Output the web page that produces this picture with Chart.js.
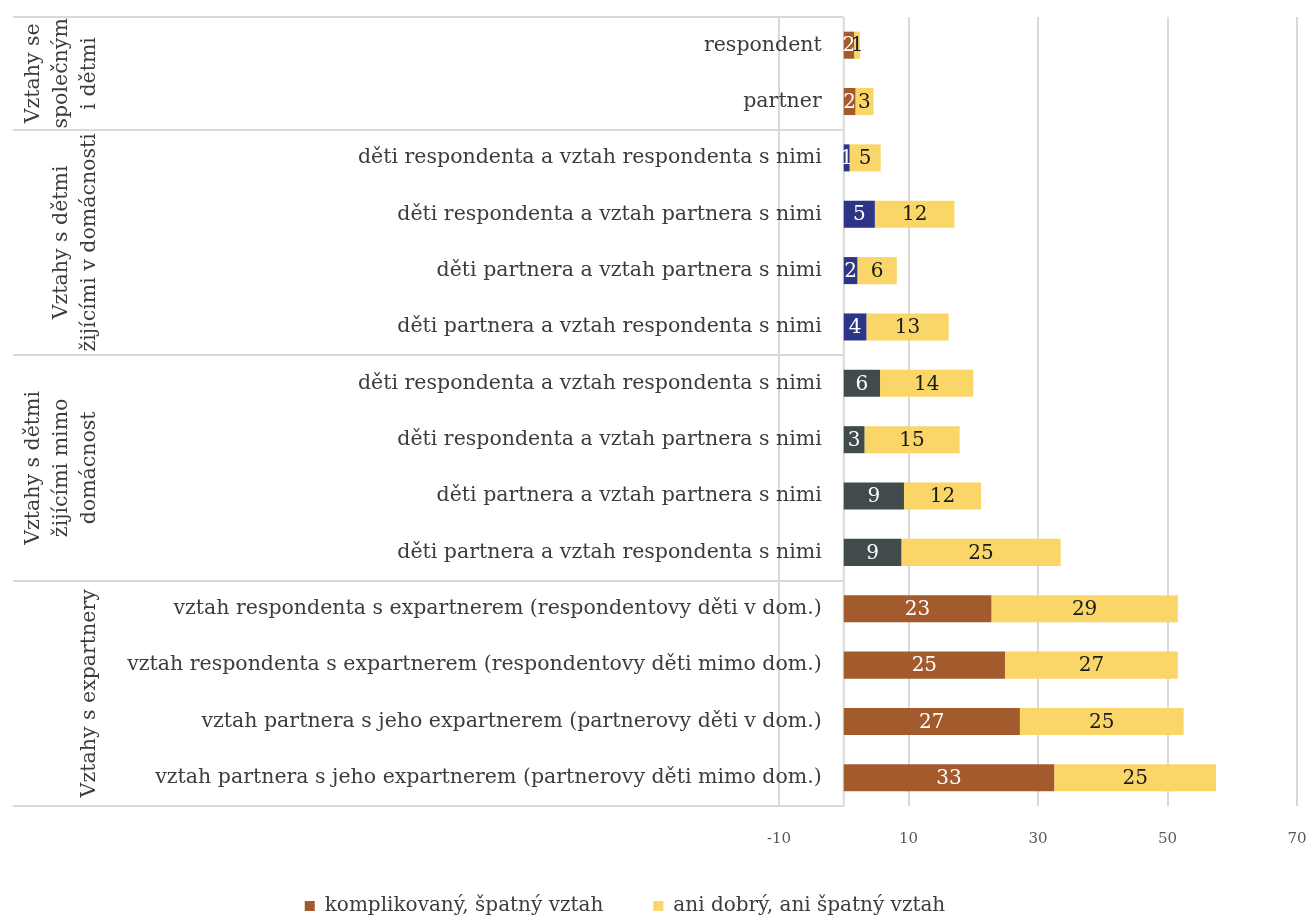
<!DOCTYPE html>
<html>
<head>
<meta charset="utf-8">
<script src="https://cdn.jsdelivr.net/npm/chart.js@4.4.1/dist/chart.umd.min.js"></script>
<style>
html,body{margin:0;padding:0;background:#fff;}
canvas{display:block;}
</style>
</head>
<body>
<canvas id="c" width="1311" height="916"></canvas>
<script>
// ---- data ----
const categories = [
  'respondent',
  'partner',
  'děti respondenta a vztah respondenta s nimi',
  'děti respondenta a vztah partnera s nimi',
  'děti partnera a vztah partnera s nimi',
  'děti partnera a vztah respondenta s nimi',
  'děti respondenta a vztah respondenta s nimi',
  'děti respondenta a vztah partnera s nimi',
  'děti partnera a vztah partnera s nimi',
  'děti partnera a vztah respondenta s nimi',
  'vztah respondenta s expartnerem (respondentovy děti v dom.)',
  'vztah respondenta s expartnerem (respondentovy děti mimo dom.)',
  'vztah partnera s jeho expartnerem (partnerovy děti v dom.)',
  'vztah partnera s jeho expartnerem (partnerovy děti mimo dom.)'
];
const groupLabels = [
  ['Vztahy se', 'společným', 'i dětmi'],
  ['Vztahy s dětmi', 'žijícími v domácnosti'],
  ['Vztahy s dětmi', 'žijícími mimo', 'domácnost'],
  ['Vztahy s expartnery']
];
const groupSizes = [2, 4, 4, 4];
const seriesNames = ['komplikovaný, špatný vztah', 'ani dobrý, ani špatný vztah'];
const complicated = [1.6, 1.8, 0.9, 4.8, 2.1, 3.5, 5.6, 3.2, 9.3, 8.9, 22.8, 24.9, 27.2, 32.5];
const neutral     = [0.9, 2.8, 4.8, 12.3, 6.1, 12.7, 14.4, 14.7, 11.9, 24.6, 28.8, 26.7, 25.3, 25.0];
const xTicks = { min: -10, max: 70, step: 20 };

// ---- styles ----
const groupColors = ['#A35A2D', '#2D3586', '#414B4B', '#A35A2D'];
const yellow = '#FAD668';
const FONT = '"DejaVu Serif"';
const TEXT = '#3c3c3c';

const firstColors = [];
groupSizes.forEach((n, g) => { for (let i = 0; i < n; i++) firstColors.push(groupColors[g]); });

function boundaryPx(chart, idx) {
  const y = chart.scales.y, a = chart.chartArea;
  if (idx <= 0) return a.top;
  if (idx >= categories.length) return a.bottom;
  return (y.getPixelForValue(idx - 1) + y.getPixelForValue(idx)) / 2;
}

const tablePlugin = {
  id: 'catTable',
  beforeDatasetsDraw(chart) {
    const { ctx, chartArea: a, scales: { x } } = chart;
    const x0 = 13, x1 = x.getPixelForValue(0);
    ctx.save();
    ctx.strokeStyle = '#d9d9d9';
    ctx.lineWidth = 2;
    let idx = 0;
    const bounds = [0];
    groupSizes.forEach(n => { idx += n; bounds.push(idx); });
    bounds.forEach(b => {
      const py = Math.round(boundaryPx(chart, b));
      ctx.beginPath(); ctx.moveTo(x0, py); ctx.lineTo(x1, py); ctx.stroke();
    });
    ctx.beginPath(); ctx.moveTo(x1, a.top); ctx.lineTo(x1, a.bottom); ctx.stroke();
    ctx.restore();
  },
  afterDraw(chart) {
    const { ctx, scales: { x, y } } = chart;
    const x1 = x.getPixelForValue(0);
    ctx.save();
    ctx.fillStyle = TEXT;
    ctx.font = '20.5px ' + FONT;
    ctx.textAlign = 'right';
    ctx.textBaseline = 'middle';
    categories.forEach((c, i) => ctx.fillText(c, x1 - 22, y.getPixelForValue(i)));
    // group labels (rotated)
    ctx.textAlign = 'center';
    let start = 0;
    groupSizes.forEach((n, g) => {
      const cy = (boundaryPx(chart, start) + boundaryPx(chart, start + n)) / 2;
      const lines = groupLabels[g];
      lines.forEach((ln, j) => {
        const cx = 90 - (lines.length - 1 - j) * 28;
        ctx.save();
        ctx.translate(cx, cy);
        ctx.rotate(-Math.PI / 2);
        ctx.fillText(ln, 0, 0);
        ctx.restore();
      });
      start += n;
    });
    ctx.restore();
  }
};

const dataLabels = {
  id: 'dataLabels',
  afterDatasetsDraw(chart) {
    const { ctx } = chart;
    ctx.save();
    ctx.font = '20px ' + FONT;
    ctx.textAlign = 'center';
    ctx.textBaseline = 'middle';
    chart.data.datasets.forEach((ds, di) => {
      const meta = chart.getDatasetMeta(di);
      ctx.fillStyle = di === 0 ? '#ffffff' : '#1a1a1a';
      meta.data.forEach((el, i) => {
        const p = el.getProps(['x', 'base', 'y'], true);
        ctx.fillText(String(Math.round(ds.data[i])), (p.x + p.base) / 2, p.y + 1);
      });
    });
    ctx.restore();
  }
};

const legendShift = {
  id: 'legendShift',
  afterLayout(chart) {
    const lg = chart.legend;
    if (!lg) return;
    const dx = -30, dy = -5;
    lg.left += dx; lg.right += dx; lg.top += dy;
  }
};

new Chart(document.getElementById('c'), {
  type: 'bar',
  data: {
    labels: categories,
    datasets: [
      { label: seriesNames[0], data: complicated, backgroundColor: firstColors, borderWidth: 0 },
      { label: seriesNames[1], data: neutral, backgroundColor: yellow, borderWidth: 0 }
    ]
  },
  options: {
    indexAxis: 'y',
    responsive: false,
    animation: false,
    devicePixelRatio: 1,
    barPercentage: 0.48,
    categoryPercentage: 1,
    layout: { padding: { left: 13, right: 14, top: 17, bottom: 0 } },
    scales: {
      x: {
        stacked: true,
        min: xTicks.min, max: xTicks.max,
        ticks: { stepSize: xTicks.step, padding: 24, color: '#595959', font: { family: 'DejaVu Serif', size: 15 } },
        grid: { color: '#d9d9d9', lineWidth: 2, drawTicks: false },
        border: { display: false },
        afterFit: s => { s.height = 45; s.paddingLeft = 0; s.paddingRight = 0; }
      },
      y: {
        stacked: true,
        grid: { display: false },
        border: { display: false },
        ticks: { display: false },
        afterFit: s => { s.width = 766; }
      }
    },
    plugins: {
      legend: {
        position: 'bottom',
        maxHeight: 65,
        labels: { boxWidth: 10, boxHeight: 10, padding: 50, color: TEXT, font: { family: 'DejaVu Serif', size: 20 } }
      },
      tooltip: { enabled: false }
    }
  },
  plugins: [tablePlugin, dataLabels, legendShift]
});
</script>
</body>
</html>
